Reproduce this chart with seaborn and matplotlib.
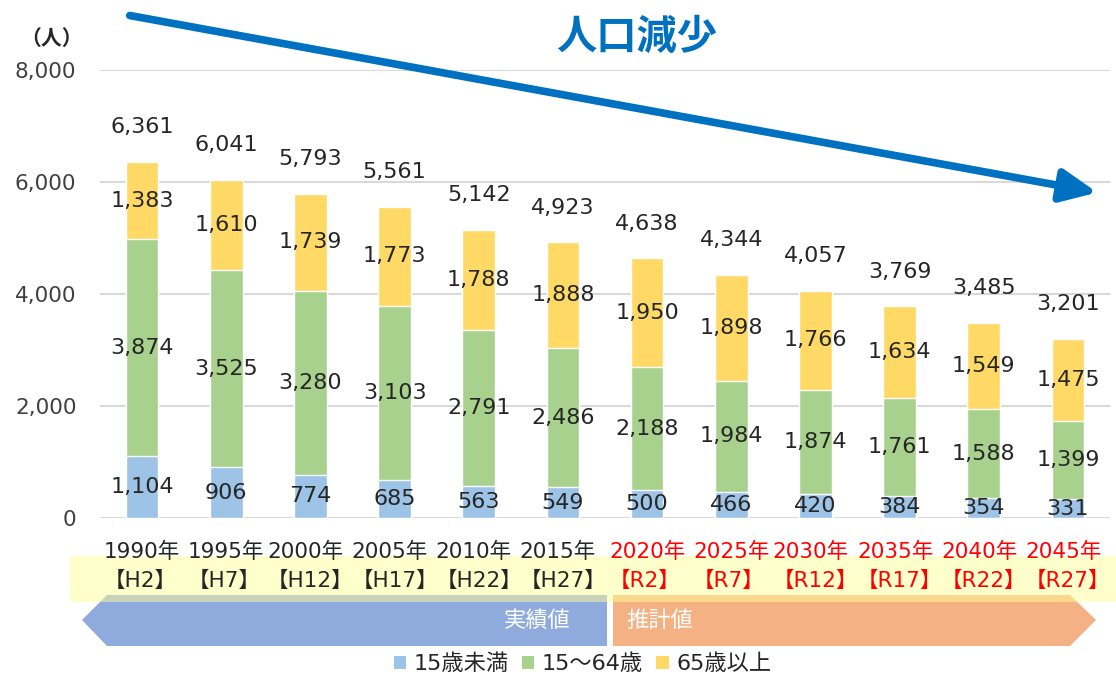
import numpy as np
import pandas as pd
import matplotlib
matplotlib.use("Agg")
import matplotlib.pyplot as plt
from matplotlib.patches import Polygon, Rectangle
import seaborn as sns

# ---- data ----
years = ["1990年", "1995年", "2000年", "2005年", "2010年", "2015年",
         "2020年", "2025年", "2030年", "2035年", "2040年", "2045年"]
eras = ["【H2】", "【H7】", "【H12】", "【H17】", "【H22】", "【H27】",
        "【R2】", "【R7】", "【R12】", "【R17】", "【R22】", "【R27】"]
under15 = [1104, 906, 774, 685, 563, 549, 500, 466, 420, 384, 354, 331]
age15_64 = [3874, 3525, 3280, 3103, 2791, 2486, 2188, 1984, 1874, 1761, 1588, 1399]
over65 = [1383, 1610, 1739, 1773, 1788, 1888, 1950, 1898, 1766, 1634, 1549, 1475]
totals = [6361, 6041, 5793, 5561, 5142, 4923, 4638, 4344, 4057, 3769, 3485, 3201]
series_names = ["15歳未満", "15～64歳", "65歳以上"]
yticks = [0, 2000, 4000, 6000, 8000]
n_actual = 6  # first 6 are actual values, rest are projections

colors = ["#9DC3E6", "#A9D18E", "#FFD966"]

sns.set_theme(style="white")
plt.rcParams["font.family"] = ["DejaVu Sans", "Noto Sans CJK JP"]

df = pd.DataFrame({"year": years, "u15": under15, "mid": age15_64, "old": over65})
df["c1"] = df["u15"]
df["c2"] = df["u15"] + df["mid"]
df["c3"] = df["c2"] + df["old"]

fig = plt.figure(figsize=(11.16, 6.75), dpi=100)
ax = fig.add_axes([100/1116, 1-518/675, 1010/1116, 448/675])
ax.set_facecolor("none")

# stacked bars via layered seaborn barplots
sns.barplot(data=df, x="year", y="c3", color=colors[2], width=0.39, ax=ax,
            saturation=1, label=series_names[2], zorder=2)
sns.barplot(data=df, x="year", y="c2", color=colors[1], width=0.39, ax=ax,
            saturation=1, label=series_names[1], zorder=3)
sns.barplot(data=df, x="year", y="c1", color=colors[0], width=0.39, ax=ax,
            saturation=1, label=series_names[0], zorder=4)

ax.set_ylim(0, 8000)
ax.set_xlim(-0.5, len(years) - 0.5)
ax.set_yticks(yticks)
ax.set_yticklabels([f"{v:,}" for v in yticks], fontsize=15.5, color="#404040")
ax.yaxis.grid(True, color="#D9D9D9", lw=1.5, zorder=0)
ax.set_axisbelow(True)
for s in ax.spines.values():
    s.set_visible(False)
ax.tick_params(axis="y", length=0, pad=17)
ax.tick_params(axis="x", length=0, pad=17)
ax.set_xlabel("")
ax.set_ylabel("")
if ax.get_legend():
    ax.get_legend().remove()

# x tick labels (two lines)
ax.set_xticks(range(len(years)))
ax.set_xticklabels([f"{y}\n{e}" for y, e in zip(years, eras)], fontsize=15.5,
                   linespacing=1.55)
for i, lab in enumerate(ax.get_xticklabels()):
    lab.set_multialignment("left")
    lab.set_color("#262626" if i < n_actual else "#FF0000")

# data labels
lab_kw = dict(ha="center", va="center", fontsize=16, color="#262626", zorder=6)
for i in range(len(years)):
    ax.text(i, df["c1"][i] / 2, f"{under15[i]:,}", **lab_kw)
    ax.text(i, df["c1"][i] + age15_64[i] / 2, f"{age15_64[i]:,}", **lab_kw)
    ax.text(i, df["c2"][i] + over65[i] / 2, f"{over65[i]:,}", **lab_kw)
    ax.annotate(f"{totals[i]:,}", (i, df["c3"][i]), xytext=(0, 25),
                textcoords="offset points", **lab_kw)

# unit label and title
fig.text(52/1116, 1-38/675, "（人）", ha="center", va="center", fontsize=15,
         fontweight="bold", color="#262626", family=["Noto Sans CJK JP"])
fig.text(637/1116, 1-37/675, "人口減少", ha="center", va="center", fontsize=29,
         fontweight="bold", color="#0070C0", family=["Noto Sans CJK JP"])

# big trend arrow
fig.add_artist(matplotlib.patches.FancyArrowPatch(
    (127/1116, 1-15/675), (1100/1116, 1-193/675), transform=fig.transFigure,
    arrowstyle="-|>,head_length=1.2,head_width=0.55", mutation_scale=18,
    lw=5.5, color="#0070C0", zorder=5))

# bottom period arrows
def fpt(x, y):
    return (x/1116, 1-y/675)

blue_arrow = Polygon([fpt(82, 620), fpt(107, 595), fpt(607, 595), fpt(607, 646), fpt(107, 646)],
                     closed=True, transform=fig.transFigure, facecolor="#8FAADC",
                     edgecolor="none", zorder=-3)
orange_arrow = Polygon([fpt(613, 595), fpt(1070, 595), fpt(1096, 620), fpt(1070, 646), fpt(613, 646)],
                       closed=True, transform=fig.transFigure, facecolor="#F4B183",
                       edgecolor="none", zorder=-3)
fig.add_artist(blue_arrow)
fig.add_artist(orange_arrow)
band = Rectangle(fpt(70, 602), (1116-70)/1116, 46/675, transform=fig.transFigure,
                 facecolor="#FFFF99", alpha=0.5, edgecolor="none", zorder=-2)
fig.add_artist(band)
fig.text(537/1116, 1-620/675, "実績値", ha="center", va="center", fontsize=16,
         color="white", zorder=5, family=["Noto Sans CJK JP"])
fig.text(660/1116, 1-620/675, "推計値", ha="center", va="center", fontsize=16,
         color="white", zorder=5, family=["Noto Sans CJK JP"])

# legend
handles = [Rectangle((0, 0), 1, 1, facecolor=c, edgecolor="none") for c in colors]
fig.legend(handles, series_names, loc="center", bbox_to_anchor=(0.522, 1-664/675),
           ncol=3, frameon=False, fontsize=16, handlelength=0.55, handleheight=0.55,
           handletextpad=0.35, columnspacing=0.6, labelcolor="#262626")

fig.savefig("out.png", dpi=100)
